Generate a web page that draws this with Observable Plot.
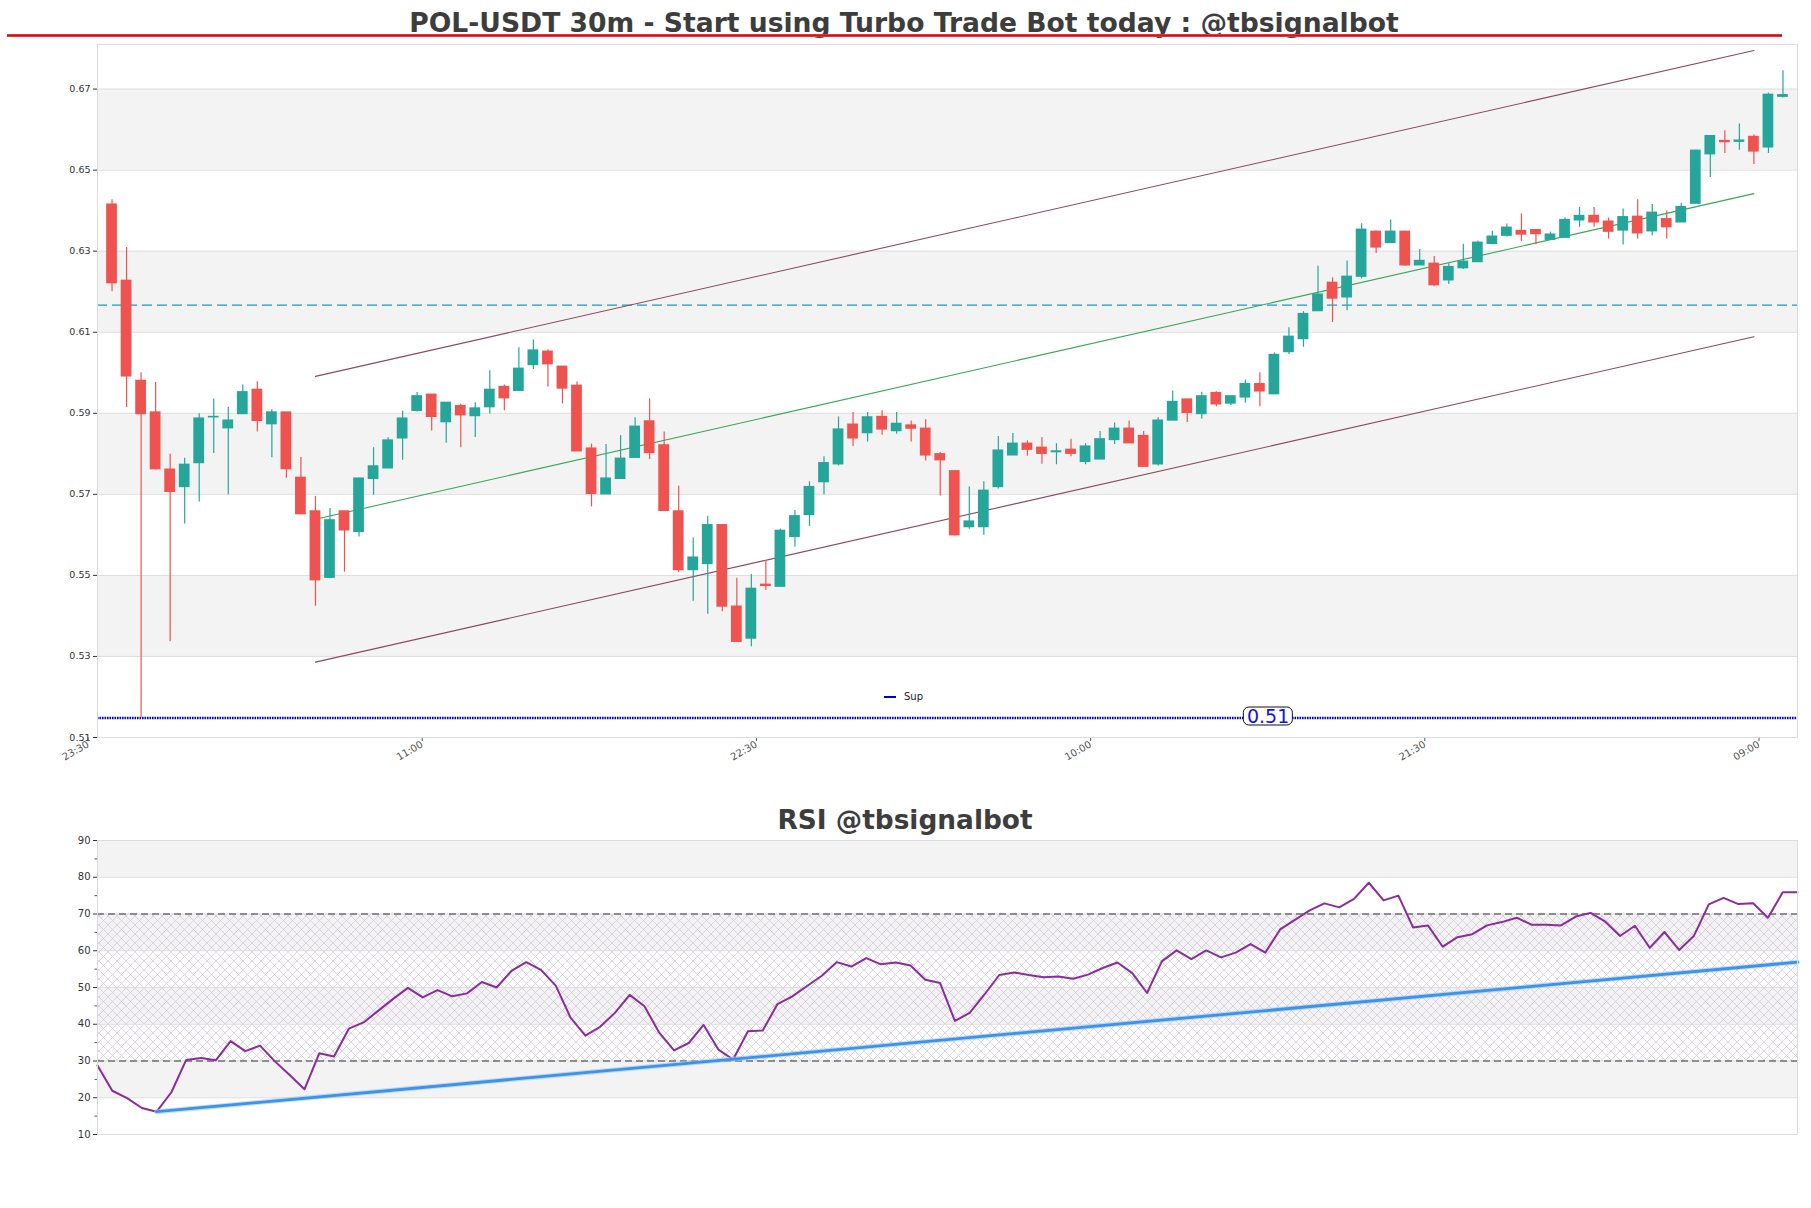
<!DOCTYPE html>
<html>
<head>
<meta charset="utf-8">
<script src="https://cdn.jsdelivr.net/npm/d3@7"></script>
<script src="https://cdn.jsdelivr.net/npm/@observablehq/plot@0.6"></script>
<style>
  html, body { margin: 0; padding: 0; background: #ffffff; }
  #wrap { position: relative; width: 1811px; height: 1208px; overflow: hidden; font-family: "DejaVu Sans", sans-serif; }
  .abs { position: absolute; }
  #title { top: 9px; left: 0; width: 1808px; text-align: center; font-weight: bold; font-size: 26.6px; line-height: 27px; color: #3d3d3d; white-space: nowrap; }
  #redline { top: 34px; left: 7px; width: 1775px; height: 3px; background: linear-gradient(#f04848, #d40f14, #f04848); }
  #rsititle { top: 807px; left: 0; width: 1810px; text-align: center; font-weight: bold; font-size: 26.4px; line-height: 26px; color: #3d3d3d; white-space: nowrap; }
  #legend { top: 690px; left: 884px; font-size: 10px; line-height: 14px; color: #222; }
  #legend span.sw { display: inline-block; width: 12px; height: 2.5px; background: #0000cc; vertical-align: middle; margin-right: 8px; }
  #suplabel { font-size: 19px; line-height: 17px; color: #1414e0; background: #fff; border: 1px solid #111; border-radius: 6px; padding: 0 3px; transform: translate(-50%, -50%); white-space: nowrap; }
</style>
</head>
<body>
<div id="wrap">
  <div id="mainchart" class="abs" style="top:0;left:0;"></div>
  <div id="rsichart" class="abs" style="top:790px;left:0;"></div>
  <div id="title" class="abs">POL-USDT 30m - Start using Turbo Trade Bot today : @tbsignalbot</div>
  <div id="redline" class="abs"></div>
  <div id="rsititle" class="abs">RSI @tbsignalbot</div>
  <div id="legend" class="abs"><span class="sw"></span>Sup</div>
</div>
<script>
// ---------------- DATA ----------------
const opens = [
  0.6415,0.6227,0.5980,0.5902,0.5761,0.5718,0.5777,0.5890,0.5863,0.5898,
  0.5958,0.5873,0.5902,0.5741,0.5658,0.5494,0.5658,0.5607,0.5738,0.5764,
  0.5838,0.5906,0.5946,0.5878,0.5918,0.5893,0.5915,0.5965,0.5955,0.6019,
  0.6052,0.6015,0.5968,0.5813,0.5700,0.5738,0.5790,0.5880,0.5821,0.5658,
  0.5513,0.5528,0.5624,0.5423,0.5344,0.5477,0.5472,0.5595,0.5649,0.5730,
  0.5774,0.5872,0.5851,0.5891,0.5856,0.5870,0.5862,0.5799,0.5757,0.5619,
  0.5619,0.5718,0.5796,0.5825,0.5815,0.5804,0.5810,0.5780,0.5786,0.5834,
  0.5862,0.5844,0.5774,0.5882,0.5934,0.5898,0.5950,0.5924,0.5939,0.5972,
  0.5947,0.6051,0.6083,0.6152,0.6222,0.6186,0.6237,0.6348,0.6320,0.6348,
  0.6265,0.6269,0.6228,0.6258,0.6273,0.6318,0.6338,0.6350,0.6352,0.6328,
  0.6333,0.6376,0.6387,0.6373,0.6351,0.6385,0.6349,0.6379,0.6371,0.6417,
  0.6539,0.6572,0.6570,0.6582,0.6556,0.6681
];
const highs = [
  0.6427,0.6309,0.6000,0.5976,0.5799,0.5789,0.5899,0.5935,0.5914,0.5970,
  0.5978,0.5909,0.5902,0.5791,0.5695,0.5665,0.5658,0.5740,0.5815,0.5840,
  0.5905,0.5951,0.5946,0.5926,0.5922,0.5926,0.6005,0.5970,0.6062,0.6081,
  0.6057,0.6015,0.5977,0.5824,0.5823,0.5845,0.5889,0.5936,0.5854,0.5720,
  0.5592,0.5646,0.5624,0.5493,0.5502,0.5537,0.5614,0.5660,0.5731,0.5793,
  0.5891,0.5902,0.5902,0.5906,0.5902,0.5881,0.5884,0.5803,0.5757,0.5718,
  0.5731,0.5843,0.5850,0.5832,0.5840,0.5825,0.5836,0.5825,0.5855,0.5876,
  0.5881,0.5855,0.5889,0.5955,0.5934,0.5952,0.5953,0.5942,0.5982,0.6000,
  0.6049,0.6111,0.6151,0.6263,0.6234,0.6276,0.6368,0.6350,0.6377,0.6349,
  0.6304,0.6287,0.6269,0.6317,0.6325,0.6349,0.6367,0.6392,0.6352,0.6347,
  0.6382,0.6408,0.6408,0.6382,0.6404,0.6427,0.6415,0.6399,0.6418,0.6548,
  0.6584,0.6597,0.6614,0.6587,0.6690,0.6745
];
const lows = [
  0.6200,0.5914,0.5150,0.5760,0.5336,0.5627,0.5681,0.5801,0.5699,0.5898,
  0.5854,0.5790,0.5740,0.5651,0.5424,0.5492,0.5508,0.5595,0.5698,0.5764,
  0.5784,0.5903,0.5856,0.5826,0.5815,0.5840,0.5898,0.5906,0.5955,0.6008,
  0.5965,0.5923,0.5806,0.5669,0.5700,0.5738,0.5790,0.5786,0.5659,0.5507,
  0.5436,0.5404,0.5410,0.5336,0.5324,0.5463,0.5472,0.5570,0.5621,0.5699,
  0.5770,0.5818,0.5829,0.5846,0.5848,0.5829,0.5782,0.5696,0.5597,0.5614,
  0.5599,0.5713,0.5796,0.5794,0.5774,0.5773,0.5793,0.5773,0.5786,0.5823,
  0.5826,0.5768,0.5770,0.5882,0.5877,0.5885,0.5916,0.5919,0.5925,0.5916,
  0.5947,0.6045,0.6063,0.6152,0.6124,0.6153,0.6232,0.6294,0.6320,0.6263,
  0.6265,0.6212,0.6218,0.6255,0.6273,0.6318,0.6335,0.6324,0.6316,0.6328,
  0.6333,0.6359,0.6359,0.6330,0.6315,0.6330,0.6338,0.6330,0.6371,0.6417,
  0.6482,0.6541,0.6549,0.6514,0.6541,0.6678
];
const closes = [
  0.6221,0.5991,0.5898,0.5762,0.5706,0.5773,0.5887,0.5891,0.5882,0.5952,
  0.5881,0.5902,0.5762,0.5651,0.5488,0.5636,0.5611,0.5739,0.5769,0.5833,
  0.5887,0.5942,0.5891,0.5926,0.5895,0.5912,0.5958,0.5937,0.6010,0.6055,
  0.6021,0.5961,0.5806,0.5701,0.5739,0.5788,0.5867,0.5802,0.5659,0.5513,
  0.5544,0.5624,0.5423,0.5336,0.5467,0.5474,0.5610,0.5646,0.5718,0.5777,
  0.5860,0.5838,0.5890,0.5860,0.5874,0.5862,0.5796,0.5784,0.5599,0.5633,
  0.5709,0.5808,0.5825,0.5810,0.5800,0.5806,0.5800,0.5818,0.5836,0.5862,
  0.5826,0.5768,0.5882,0.5928,0.5901,0.5942,0.5922,0.5942,0.5972,0.5954,
  0.6044,0.6089,0.6145,0.6193,0.6183,0.6237,0.6353,0.6309,0.6348,0.6265,
  0.6276,0.6216,0.6261,0.6274,0.6321,0.6336,0.6358,0.6341,0.6342,0.6341,
  0.6377,0.6387,0.6371,0.6348,0.6384,0.6344,0.6395,0.6359,0.6409,0.6548,
  0.6584,0.6569,0.6573,0.6546,0.6686,0.6685
];
const rsiValues = [
  28.8,21.9,19.9,17.2,16.2,21.5,30.3,30.8,30.2,35.4,
  32.7,34.2,29.9,26.2,22.3,32.1,31.2,38.8,40.5,43.7,
  46.9,49.9,47.3,49.3,47.6,48.4,51.5,50.0,54.5,56.9,
  54.8,50.5,41.8,36.9,39.3,43.1,48.0,44.9,37.7,32.9,
  34.9,39.8,33.1,30.4,38.1,38.3,45.5,47.6,50.4,53.2,
  56.9,55.7,58.0,56.3,56.8,56.0,52.1,51.2,40.9,43.1,
  48.1,53.4,54.1,53.4,52.8,53.0,52.4,53.5,55.3,56.8,
  53.9,48.5,57.1,60.1,57.7,60.1,58.2,59.5,61.8,59.5,
  65.8,68.4,71.0,72.9,71.8,74.1,78.5,73.7,75.0,66.3,
  66.9,61.1,63.7,64.5,66.9,67.8,69.0,67.1,67.1,66.9,
  69.3,70.3,67.9,64.0,66.8,60.8,65.1,60.2,64.1,72.6,
  74.4,72.7,72.9,69.0,75.9,75.9
];
const xTickLabels = ["23:30", "11:00", "22:30", "10:00", "21:30", "09:00"];
const firstTickIndex = -1.65;   // candle index of the first time label
const tickStepCandles = 23;     // 11.5 h of 30m candles
const yTickValues = [0.51, 0.53, 0.55, 0.57, 0.59, 0.61, 0.63, 0.65, 0.67];
const shadedBands = [[0.53, 0.55], [0.57, 0.59], [0.61, 0.63], [0.65, 0.67]];
const supportLevel = 0.5148;
const supportLabel = "0.51";
const supportLabelIndex = 79.6;
const resistanceLevel = 0.6167;
const channelIdx = [14, 113];
const channelUpper = [0.5991, 0.6795];
const channelLower = [0.5286, 0.6089];
const rsiTicks = [10, 20, 30, 40, 50, 60, 70, 80, 90];
const rsiMinorTicks = [15, 25, 35, 45, 55, 65, 75, 85];
const rsiShadedBands = [[20, 30], [40, 50], [60, 70], [80, 90]];
const rsiZone = [[30, 70]];
const rsiLevels = [70, 30];
const rsiTrendIdx = [4, 115];
const rsiTrendVal = [16.2, 56.9];

// ---------------- BUILD ----------------
const UP = "#26a69a", DOWN = "#ef5350";
const candles = opens.map((o, i) => ({ i, open: o, high: highs[i], low: lows[i], close: closes[i] }));
const colorOf = d => d.close >= d.open ? UP : DOWN;
const xTicks = xTickLabels.map((_, k) => firstTickIndex + k * tickStepCandles);
const labelMap = new Map(xTicks.map((t, k) => [t, xTickLabels[k]]));
const upper = channelIdx.map((i, k) => ({ i, v: channelUpper[k] }));
const lower = channelIdx.map((i, k) => ({ i, v: channelLower[k] }));
const middle = channelIdx.map((i, k) => ({ i, v: (channelUpper[k] + channelLower[k]) / 2 }));

const main = Plot.plot({
  width: 1811, height: 790,
  marginLeft: 97, marginRight: 14, marginTop: 44, marginBottom: 53,
  x: { type: "linear", domain: [-1, 116], axis: null },
  y: { domain: [0.51, 0.681], axis: null },
  color: { type: "identity" },
  style: { fontFamily: "DejaVu Sans, sans-serif", background: "transparent", overflow: "visible" },
  marks: [
    Plot.rect(shadedBands, { y1: d => d[0], y2: d => d[1], fill: "#f3f3f3" }),
    Plot.gridY(yTickValues, { stroke: "#dedede", strokeOpacity: 1 }),
    Plot.axisY({ ticks: yTickValues, tickFormat: d3.format(".2f"), fontSize: 9.5, tickSize: 4, tickPadding: 3, color: "#333", label: null }),
    Plot.axisX({ ticks: xTicks, tickFormat: d => labelMap.get(d), tickRotate: -30, fontSize: 10, tickSize: 4, tickPadding: 2, color: "#555", label: null }),
    Plot.ruleY([resistanceLevel], { stroke: "#2196c8", strokeWidth: 1.2, strokeDasharray: "10,5" }),
    Plot.ruleY([supportLevel], { stroke: "#0000cc", strokeWidth: 2.6, strokeDasharray: "1.6,0.9" }),
    Plot.line(upper, { x: "i", y: "v", stroke: "#8a4a5e", strokeWidth: 1.1 }),
    Plot.line(lower, { x: "i", y: "v", stroke: "#8a4a5e", strokeWidth: 1.1 }),
    Plot.line(middle, { x: "i", y: "v", stroke: "#3aa655", strokeWidth: 1.1 }),
    Plot.ruleX(candles, { x: "i", y1: "low", y2: "high", stroke: colorOf, strokeWidth: 1.2 }),
    Plot.rect(candles, { x1: d => d.i - 0.37, x2: d => d.i + 0.37, y1: "open", y2: "close", fill: colorOf, insetTop: -0.6, insetBottom: -0.6 }),
    Plot.frame({ stroke: "#dcdcdc" })
  ]
});
document.getElementById("mainchart").appendChild(main);

// support value label
const lab = document.createElement("div");
lab.id = "suplabel";
lab.className = "abs";
lab.textContent = supportLabel;
lab.style.left = main.scale("x").apply(supportLabelIndex) + "px";
lab.style.top = (main.scale("y").apply(supportLevel) - 1.5) + "px";
document.getElementById("wrap").appendChild(lab);

// RSI
const hatchDefs = () => {
  const defs = d3.create("svg:defs");
  const p = defs.append("pattern").attr("id", "rsihatch").attr("patternUnits", "userSpaceOnUse").attr("width", 9).attr("height", 9);
  p.append("path").attr("d", "M0,0L9,9M9,0L0,9").attr("stroke", "#c9bcd6").attr("stroke-width", 0.6).attr("fill", "none");
  return defs.node();
};
const trend = rsiTrendIdx.map((k, j) => ({ k, v: rsiTrendVal[j] }));
const rsiPlot = Plot.plot({
  width: 1811, height: 380,
  marginLeft: 97, marginRight: 14, marginTop: 50, marginBottom: 36,
  x: { type: "linear", domain: [0, rsiValues.length - 1], axis: null },
  y: { domain: [10, 90], axis: null },
  style: { fontFamily: "DejaVu Sans, sans-serif", background: "transparent" },
  marks: [
    hatchDefs,
    Plot.rect(rsiShadedBands, { y1: d => d[0], y2: d => d[1], fill: "#f3f3f3" }),
    Plot.rect(rsiZone, { y1: d => d[0], y2: d => d[1], fill: "url(#rsihatch)" }),
    Plot.gridY(rsiTicks, { stroke: "#dedede", strokeOpacity: 1 }),
    Plot.ruleY(rsiLevels, { stroke: "#333", strokeWidth: 1.2, strokeDasharray: "7,4" }),
    Plot.lineY(rsiValues, { stroke: "#8b2c9c", strokeWidth: 2 }),
    Plot.line(trend, { x: "k", y: "v", stroke: "#9cc8f5", strokeWidth: 5, strokeOpacity: 0.6 }),
    Plot.line(trend, { x: "k", y: "v", stroke: "#3d92ea", strokeWidth: 2.8 }),
    Plot.frame({ stroke: "#dcdcdc" }),
    Plot.axisY({ ticks: rsiTicks, fontSize: 10, tickSize: 4, tickPadding: 3, color: "#333", label: null }),
    Plot.axisY({ ticks: rsiMinorTicks, tickFormat: () => "", tickSize: 2.5, color: "#555", label: null })
  ]
});
document.getElementById("rsichart").appendChild(rsiPlot);
</script>
</body>
</html>
